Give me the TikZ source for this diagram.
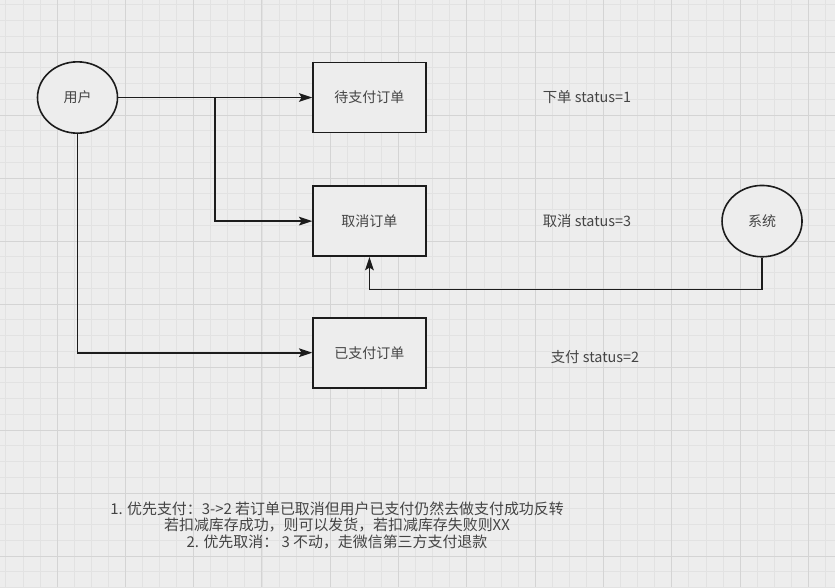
\documentclass[tikz,border=0pt]{standalone}
\usepackage{fontspec}
\newfontfamily\cjk{Noto Sans CJK SC}
\usetikzlibrary{positioning,shapes.geometric,arrows.meta}

\definecolor{paper}{HTML}{EDEDED}
\definecolor{gridminor}{HTML}{E2E2E2}
\definecolor{gridmajor}{HTML}{D4D4D4}
\definecolor{ink}{HTML}{1C1C1C}
\definecolor{txt}{HTML}{444444}

\tikzset{
  state/.style={ellipse, draw=ink, line width=1.2pt, fill=paper, inner sep=0pt,
    minimum width=60pt, minimum height=53.5pt, text=txt, font=\cjk\fontsize{10.5}{12}\selectfont},
  order/.style={rectangle, draw=ink, line width=1.2pt, fill=paper,
    minimum width=84.5pt, minimum height=52.5pt, text=txt, font=\cjk\fontsize{10.5}{12}\selectfont},
  note/.style={anchor=west, inner sep=0pt, text=txt, font=\cjk\fontsize{10.8}{12}\selectfont},
  link/.style={draw=ink, line width=1.2pt, -{Stealth[length=10pt,width=6.5pt,inset=2pt]}},
}

\begin{document}
\begin{tikzpicture}[x=0.75pt, y=-0.75pt]

% Paper and grid
\useasboundingbox[fill=paper] (0,0) rectangle (835,587);
\foreach \i in {0,...,49} {\draw[gridminor, line width=0.5pt] ({-11.3+17.075*\i},0) -- ++(0,587);}
\foreach \j in {0,...,38} {\draw[gridminor, line width=0.5pt] (0,{-11+15.75*\j}) -- ++(835,0);}
\foreach \i in {0,...,12} {\draw[gridmajor, line width=0.7pt] ({-11.3+68.3*\i},0) -- ++(0,587);}
\foreach \j in {0,...,9} {\draw[gridmajor, line width=0.7pt] (0,{-11+63*\j}) -- ++(835,0);}

% Define nodes
\node[state] (user) at (77.5,97.5) {用户};
\node[order, right=145.5pt of user] (unpaid) {待支付订单};
\node[order, below=39pt of unpaid]  (cancel) {取消订单};
\node[order, below=45pt of cancel]  (paid)   {已支付订单};
\node[state, right=221pt of cancel] (system) {系统};

\node[note, right=87pt of unpaid]  (s1) {下单 status=1};
\node[note, right=87pt of cancel]  (s3) {取消 status=3};
\node[note, right=93pt of paid, yshift=-3pt] (s2) {支付 status=2};

\node[align=center, text=txt, font=\cjk\fontsize{11.2}{12.4}\selectfont] (rules) at (337,525)
  {1. 优先支付：3->2 若订单已取消但用户已支付仍然去做支付成功反转\\
   若扣减库存成功，则可以发货，若扣减库存失败则XX\\
   2. 优先取消： 3 不动，走微信第三方支付退款};

% Connect the nodes
\coordinate (fork) at (215,97.5);
\draw[link] (user) -- (unpaid);
\draw[link] (fork) |- (cancel);
\draw[link] (user) |- (paid);
\draw[link] (system.south) -- ++(0,32) -| (cancel.south);

\end{tikzpicture}
\end{document}
